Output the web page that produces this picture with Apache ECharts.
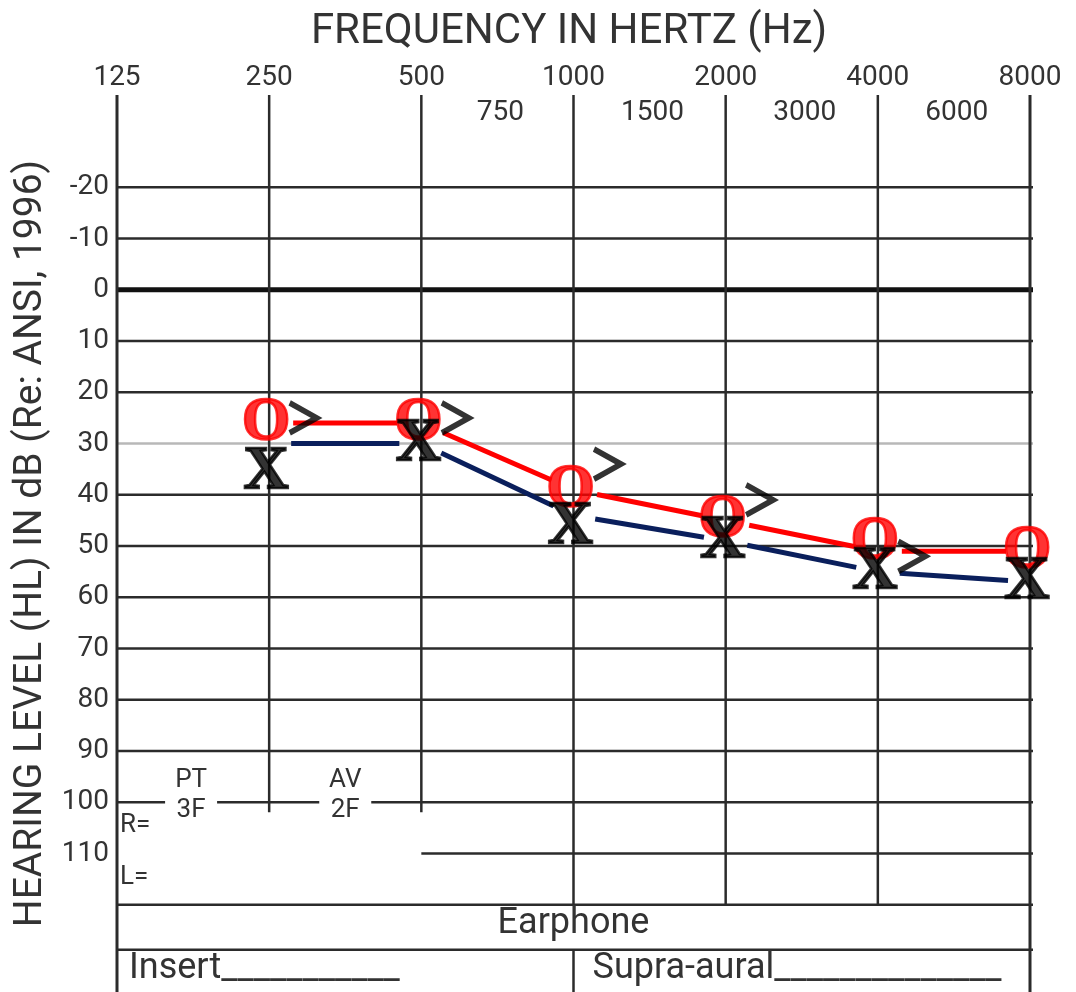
<!DOCTYPE html>
<html>
<head>
<meta charset="utf-8">
<style>
  html, body { margin: 0; padding: 0; background: #fff; }
  #chart { width: 1076px; height: 992px; }
</style>
<script src="https://cdn.jsdelivr.net/npm/echarts@6/dist/echarts.min.js"></script>
</head>
<body>
<div id="chart"></div>
<script>
// audiogram values (dB HL)
var freqs = [250, 500, 1000, 2000, 4000, 8000];
var rightAir = [26, 26, 39, 45, 51, 51];      // red O
var leftAir = [30, 30, 44, 49, 55, 57];       // navy X
var boneFreqs = [250, 500, 1000, 2000, 4000];
var rightBone = [25, 25, 34, 41, 52];         // black >

var octaveTicks = [125, 250, 500, 1000, 2000, 4000, 8000];
var midTicks = [750, 1500, 3000, 6000];
var dbTicks = [-20, -10, 0, 10, 20, 30, 40, 50, 60, 70, 80, 90, 100, 110];

// hand placement of the glyphs on the sheet (px), not data
var oNudgeY = [0, 0, 0, 0, -9, 0];
var xNudgeY = [28, 0, 12, 0, 0, 0];

var DB_TOP = -38, DB_BOTTOM = 137;
var ink = '#2b2b2b';
var textInk = '#333';
var red = '#ff0000';
var navy = '#0a1f5c';

var chart = echarts.init(document.getElementById('chart'));

function renderForm(params, api) {
  var kids = [];
  function P(f, db) { return api.coord([f, db]); }
  function line(x1, y1, x2, y2, w, c) {
    kids.push({ type: 'line', shape: { x1: x1, y1: y1, x2: x2, y2: y2 },
      style: { stroke: c || ink, lineWidth: w || 2.5 } });
  }
  function text(s, x, y, size, align) {
    kids.push({ type: 'text', style: { text: s, x: x, y: y, fill: textInk,
      fontFamily: 'Roboto', fontSize: size, align: align || 'center', verticalAlign: 'middle' } });
  }
  var left = P(125, 0)[0], right = P(8000, 0)[0];
  var x500 = P(500, 0)[0], x1000 = P(1000, 0)[0];
  var yTop = P(125, DB_TOP)[1], yBottom = P(125, DB_BOTTOM)[1];
  var y100 = P(125, 100)[1], y120 = P(125, 120)[1];
  var yEar = y120 + 45;

  // horizontal rules
  dbTicks.forEach(function (db) {
    var y = P(125, db)[1];
    if (db === 110) { line(x500, y, right + 3, y); return; }
    if (db === 0) { line(left, y, right + 3, y, 5, '#111'); return; }
    if (db === 30) { line(left, y, right + 3, y, 2.5, '#b8b8b8'); return; }
    line(left, y, right + 3, y);
  });
  line(left, y120, right + 3, y120);
  line(left, yEar, right + 3, yEar);

  // vertical rules
  octaveTicks.forEach(function (f) {
    var x = P(f, 0)[0];
    if (f === 125 || f === 8000) { line(x, yTop, x, yBottom, 3); return; }
    if (f === 250 || f === 500) { line(x, yTop, x, y100 + 10); return; }
    line(x, yTop, x, y120);
    if (f === 1000) line(x, yEar, x, yBottom);
  });

  // frequency labels
  octaveTicks.forEach(function (f) { text(String(f), P(f, 0)[0], yTop - 17, 28); });
  midTicks.forEach(function (f) { text(String(f), P(f, 0)[0] - 10, yTop + 18, 28); });

  // PT / AV boxes on the 100 line
  var mid1 = (left + P(250, 0)[0]) / 2 - 2;
  var mid2 = (P(250, 0)[0] + x500) / 2;
  [mid1, mid2].forEach(function (m) {
    kids.push({ type: 'rect', shape: { x: m - 26, y: y100 - 5, width: 52, height: 10 },
      style: { fill: '#fff' } });
  });
  text('PT', mid1, y100 - 22, 26);
  text('3F', mid1, y100 + 8, 26);
  text('AV', mid2, y100 - 22, 26);
  text('2F', mid2, y100 + 8, 26);
  text('R=', left + 3, y100 + 23, 26, 'left');
  text('L=', left + 3, y100 + 75, 26, 'left');

  // earphone table
  text('Earphone', (left + right) / 2, y120 + 19, 36);
  text('Insert___________', left + 12, y120 + 64, 36, 'left');
  text('Supra-aural______________', x1000 + 19, y120 + 64, 36, 'left');

  return { type: 'group', children: kids };
}

function gappedLine(name, values, color, gap) {
  var data = [];
  for (var i = 0; i < freqs.length - 1; i++) {
    data.push([freqs[i], values[i], freqs[i + 1], values[i + 1]]);
  }
  return {
    name: name,
    type: 'custom',
    z: 2,
    silent: true,
    encode: { x: [0, 2], y: [1, 3] },
    data: data,
    renderItem: function (params, api) {
      var a = api.coord([api.value(0), api.value(1)]);
      var b = api.coord([api.value(2), api.value(3)]);
      var dx = b[0] - a[0], dy = b[1] - a[1];
      var len = Math.sqrt(dx * dx + dy * dy);
      var ux = dx / len, uy = dy / len;
      return { type: 'line',
        shape: { x1: a[0] + ux * gap, y1: a[1] + uy * gap, x2: b[0] - ux * gap, y2: b[1] - uy * gap },
        style: { stroke: color, lineWidth: 5 } };
    }
  };
}

function glyphSeries(name, values, glyph, color, nudge, z) {
  return {
    name: name,
    type: 'scatter',
    z: z,
    silent: true,
    symbolSize: 1,
    itemStyle: { color: 'transparent' },
    data: freqs.map(function (f, i) {
      return { value: [f, values[i]], label: { offset: [-3, nudge[i]] } };
    }),
    label: { show: true, position: 'inside', formatter: glyph, color: color,
      textBorderColor: color, textBorderWidth: 2.5,
      fontFamily: 'Liberation Serif', fontWeight: 'bold', fontSize: 62 }
  };
}

chart.setOption({
  animation: false,
  backgroundColor: '#fff',
  title: {
    text: 'FREQUENCY IN HERTZ (Hz)',
    left: 564, top: 6, textAlign: 'center',
    textStyle: { fontFamily: 'Roboto', fontSize: 42, fontWeight: 'normal', color: textInk }
  },
  grid: { left: 117, right: 46, top: 95, bottom: 0, outerBoundsMode: 'none' },
  xAxis: {
    type: 'log', logBase: 2, min: 125, max: 8000, position: 'top',
    axisLine: { show: false }, axisTick: { show: false },
    axisLabel: { show: false }, splitLine: { show: false }
  },
  yAxis: {
    type: 'value', inverse: true, min: DB_TOP, max: DB_BOTTOM,
    axisLine: { show: false }, axisTick: { show: false }, splitLine: { show: false },
    axisLabel: { customValues: dbTicks, fontFamily: 'Roboto', fontSize: 28, color: textInk, margin: 8 },
    name: 'HEARING LEVEL (HL) IN dB (Re: ANSI, 1996)',
    nameLocation: 'middle', nameGap: 66, nameRotate: 90, nameMoveOverlap: false,
    nameTextStyle: { fontFamily: 'Roboto', fontSize: 39, color: textInk }
  },
  series: [
    { name: 'form', type: 'custom', z: 1, silent: true, clip: false,
      data: [[125, 0]], renderItem: renderForm },
    gappedLine('Right air line', rightAir, red, 24),
    gappedLine('Left air line', leftAir, navy, 22),
    glyphSeries('Right air', rightAir, 'O', red, oNudgeY, 3),
    glyphSeries('Left air', leftAir, 'X', '#000', xNudgeY, 4),
    {
      name: 'Right bone', type: 'scatter', z: 5, silent: true,
      symbol: 'path://M0,0L10,5.5L0,11',
      symbolSize: [27, 30], symbolOffset: [34, 0],
      itemStyle: { color: 'transparent', borderColor: '#000', borderWidth: 5.5 },
      data: boneFreqs.map(function (f, i) { return [f, rightBone[i]]; })
    }
  ]
});
window.addEventListener('resize', function () { chart.resize(); });
</script>
</body>
</html>
